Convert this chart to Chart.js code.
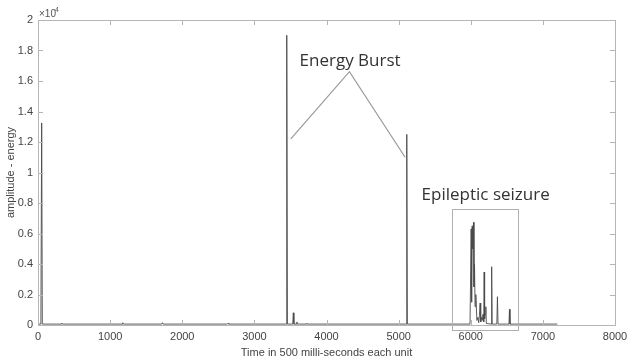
<!DOCTYPE html>
<html>
<head>
<meta charset="utf-8">
<script src="https://cdn.jsdelivr.net/npm/chart.js@4.4.1/dist/chart.umd.min.js"></script>
<style>
  html, body { margin: 0; padding: 0; background: #fff; }
  #wrap { width: 635px; height: 364px; }
</style>
</head>
<body>
<div id="wrap"><canvas id="energyChart"></canvas></div>
<script>
// Time index (units of 500 ms) and energy amplitude
const timeUnits = [
  0, 40, 51, 60, 320, 330, 340, 1165, 1175, 1185, 1715, 1725, 1735,
  2625, 2635, 2645, 3440, 3449, 3458, 3532, 3540, 3548, 3585, 3590, 3595,
  3720, 3727, 3734, 5105, 5113, 5121,
  5990, 6006, 6012, 6020, 6029, 6038, 6045, 6052, 6060, 6070, 6085,
  6100, 6110, 6120, 6130, 6138, 6150, 6160, 6170, 6180, 6186, 6192,
  6200, 6209, 6216, 6283, 6290, 6297, 6362, 6370, 6378,
  6530, 6537, 6544, 7200
]
const energy = [
  60, 60, 13250, 60, 60, 120, 60, 60, 150, 60, 60, 150, 60,
  60, 110, 60, 60, 19000, 60, 60, 800, 60, 60, 200, 60,
  60, 110, 60, 60, 12500, 60,
  60, 6300, 1500, 6500, 5000, 6730, 2500, 4000, 1200, 2000, 300,
  500, 150, 600, 1440, 200, 500, 300, 700, 200, 3475, 400,
  700, 1200, 100, 60, 3820, 60, 60, 1855, 60,
  60, 1030, 60, 60
]

const xTicks = [0, 1000, 2000, 3000, 4000, 5000, 6000, 7000, 8000]
const yTicks = [0, 2000, 4000, 6000, 8000, 10000, 12000, 14000, 16000, 18000, 20000]

// Annotations in data coordinates
const burstLabel = { text: 'Energy Burst', x: 4327, y: 17300 }
const burstLines = [[3505, 12200], [4318, 16610], [5090, 11000]]
const seizureLabel = { text: 'Epileptic seizure', x: 6207, y: 8520 }
const seizureBox = { x0: 5738, x1: 6660, y0: -330, y1: 7600 }

const points = timeUnits.map((t, i) => ({ x: t, y: energy[i] }))

const axisColor = '#b5b5b5'
const labelFont = { family: 'Liberation Sans, Arial, sans-serif', size: 11 }

// MATLAB-like frame with inward ticks, exponent label and annotations
const decorPlugin = {
  id: 'decor',
  afterDraw(chart) {
    const { ctx, chartArea: a, scales } = chart
    const xs = scales.x, ys = scales.y
    ctx.save()
    ctx.strokeStyle = axisColor
    ctx.lineWidth = 1
    ctx.strokeRect(a.left + 0.5, a.top + 0.5, a.right - a.left, a.bottom - a.top)
    ctx.beginPath()
    xTicks.forEach(v => {
      const px = Math.round(xs.getPixelForValue(v)) + 0.5
      ctx.moveTo(px, a.bottom); ctx.lineTo(px, a.bottom - 5)
      ctx.moveTo(px, a.top); ctx.lineTo(px, a.top + 5)
    })
    yTicks.forEach(v => {
      const py = Math.round(ys.getPixelForValue(v)) + 0.5
      ctx.moveTo(a.left, py); ctx.lineTo(a.left + 5, py)
      ctx.moveTo(a.right, py); ctx.lineTo(a.right - 5, py)
    })
    ctx.stroke()

    // exponent
    ctx.fillStyle = '#555'
    ctx.textBaseline = 'alphabetic'
    ctx.textAlign = 'left'
    ctx.font = '10px Liberation Sans, Arial, sans-serif'
    ctx.fillText('\u00d710', a.left + 1, a.top - 3)
    ctx.font = '7px Liberation Sans, Arial, sans-serif'
    ctx.fillText('4', a.left + 17, a.top - 8)

    // annotation lines and box
    ctx.strokeStyle = '#9a9a9a'
    ctx.lineWidth = 1.2
    ctx.beginPath()
    burstLines.forEach((p, i) => {
      const px = xs.getPixelForValue(p[0]), py = ys.getPixelForValue(p[1])
      if (i === 0) ctx.moveTo(px, py); else ctx.lineTo(px, py)
    })
    ctx.stroke()
    ctx.strokeStyle = '#b0b0b0'
    ctx.lineWidth = 1
    const bx0 = xs.getPixelForValue(seizureBox.x0), bx1 = xs.getPixelForValue(seizureBox.x1)
    const by0 = ys.getPixelForValue(seizureBox.y0), by1 = ys.getPixelForValue(seizureBox.y1)
    ctx.strokeRect(Math.round(bx0) + 0.5, Math.round(by1) + 0.5, Math.round(bx1 - bx0), Math.round(by0 - by1))

    // annotation text
    ctx.fillStyle = '#333'
    ctx.font = '17px "Open Sans", sans-serif'
    ctx.textAlign = 'center'
    ctx.textBaseline = 'middle'
    ;[burstLabel, seizureLabel].forEach(l => {
      ctx.fillText(l.text, xs.getPixelForValue(l.x), ys.getPixelForValue(l.y))
    })
    ctx.restore()
  }
}

const ctx = document.getElementById('energyChart').getContext('2d')
new Chart(ctx, {
  type: 'line',
  data: {
    datasets: [{
      data: points,
      borderColor: '#4a4a4a',
      borderWidth: 0.9,
      pointRadius: 0,
      tension: 0,
      fill: false
    }]
  },
  options: {
    responsive: true,
    maintainAspectRatio: false,
    animation: false,
    events: [],
    layout: { padding: { top: 20, right: 20, left: 0, bottom: 0 } },
    plugins: {
      legend: { display: false },
      tooltip: { enabled: false }
    },
    scales: {
      x: {
        type: 'linear',
        min: 0,
        max: 8000,
        afterBuildTicks: s => { s.ticks = xTicks.map(v => ({ value: v })) },
        afterFit: s => { s.height = 39 },
        grid: { display: false, drawTicks: false },
        border: { display: false },
        ticks: { color: '#444', font: labelFont, padding: 5, maxRotation: 0, callback: v => String(v) },
        title: {
          display: true,
          text: 'Time in 500 milli-seconds each unit',
          color: '#444',
          font: labelFont,
          padding: { top: 0, bottom: 4 }
        }
      },
      y: {
        min: 0,
        max: 20000,
        afterBuildTicks: s => { s.ticks = yTicks.map(v => ({ value: v })) },
        afterFit: s => { s.width = 38 },
        grid: { display: false, drawTicks: false },
        border: { display: false },
        ticks: {
          color: '#444',
          font: labelFont,
          padding: 5,
          callback: v => String(+(v / 10000).toFixed(1))
        },
        title: {
          display: true,
          text: 'amplitude - energy',
          color: '#444',
          font: labelFont,
          padding: { top: 4, bottom: 0 }
        }
      }
    }
  },
  plugins: [decorPlugin]
})
</script>
</body>
</html>
